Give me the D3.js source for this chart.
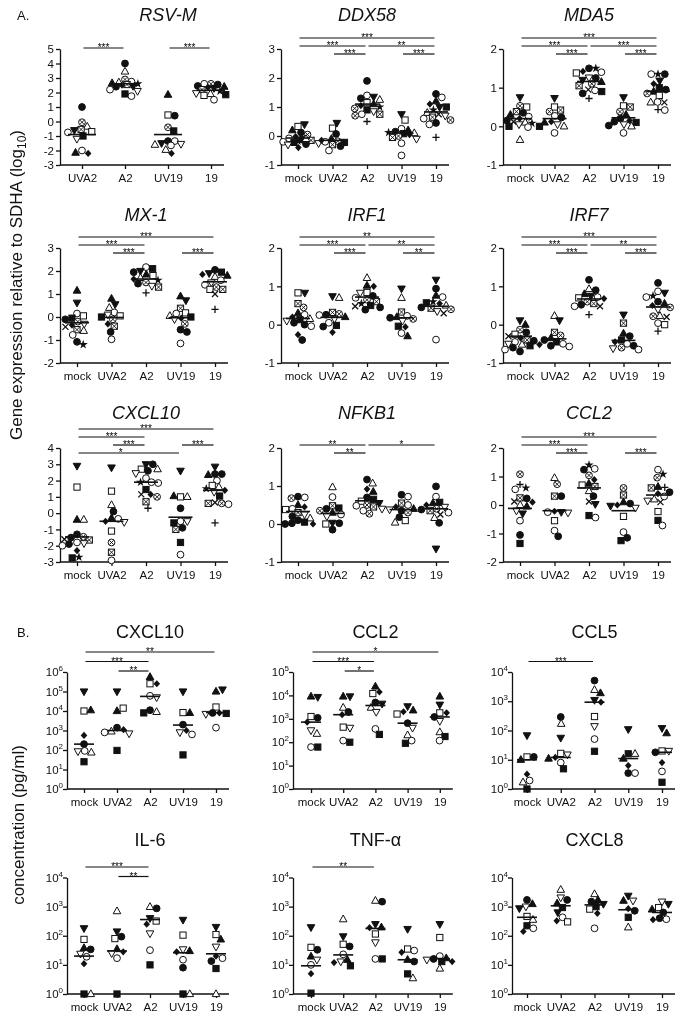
<!DOCTYPE html>
<html>
<head>
<meta charset="utf-8">
<script src="https://cdn.jsdelivr.net/npm/d3@7"></script>
<style>
  body { margin: 0; background: #fff; }
  #chart { display: block; font-family: "Liberation Sans", Arial, sans-serif; filter: grayscale(100%); }
  #chart text { font-family: "Liberation Sans", Arial, sans-serif; }
</style>
</head>
<body>
<svg id="chart" width="687" height="1018"></svg>
<script>
// ----------------------------------------------------------
// Data. Shape codes:
//  o open circle, O filled circle, s open square, S filled square,
//  t/T triangle up open/filled, v/V triangle down open/filled,
//  D filled diamond, c circle-with-x, q square-with-x, * star, + plus, x cross
// ----------------------------------------------------------
const groups5 = ['mock', 'UVA2', 'A2', 'UV19', '19'];
const groups4 = ['UVA2', 'A2', 'UV19', '19'];

const ticksRsvm = [-3, -2, -1, 0, 1, 2, 3, 4, 5];
const ticksM1to3 = [-1, 0, 1, 2, 3];
const ticksM1to2 = [-1, 0, 1, 2];
const ticksM2to3 = [-2, -1, 0, 1, 2, 3];
const ticksM3to4 = [-3, -2, -1, 0, 1, 2, 3, 4];
const ticksM2to2 = [-2, -1, 0, 1, 2];
const ticksLog6 = [1, 10, 100, 1e3, 1e4, 1e5, 1e6];
const ticksLog5 = [1, 10, 100, 1e3, 1e4, 1e5];
const ticksLog4 = [1, 10, 100, 1e3, 1e4];

// --- A. gene expression (log10 relative to SDHA) ---
const rsvmPoints = [
  [[1.0,'O'],[-0.05,'c'],[-0.35,'t'],[-0.55,'q'],[-0.6,'V'],[-0.7,'s'],[-0.75,'o'],[-1.0,'S'],[-1.2,'v'],[-2.0,'o'],[-2.2,'D'],[-2.15,'T']],
  [[4.0,'O'],[3.45,'t'],[2.9,'c'],[2.75,'o'],[2.7,'t'],[2.65,'T'],[2.6,'*'],[2.55,'q'],[2.5,'D'],[2.45,'V'],[2.4,'O'],[2.2,'o'],[2.1,'v'],[1.9,'S'],[1.75,'o']],
  [[1.85,'T'],[0.45,'s'],[0.4,'O'],[-0.4,'c'],[-0.65,'S'],[-1.35,'O'],[-1.35,'o'],[-1.5,'V'],[-1.55,'v'],[-1.6,'t'],[-1.65,'o'],[-1.95,'t'],[-2.2,'D']],
  [[2.6,'c'],[2.55,'O'],[2.6,'o'],[2.45,'O'],[2.4,'T'],[2.35,'D'],[2.3,'V'],[2.2,'q'],[2.1,'*'],[1.95,'v'],[1.9,'t'],[1.85,'S'],[1.8,'s'],[1.5,'o']]
];
const rsvmMeans = [-0.9, 2.6, -0.9, 2.15];
const rsvmSig = [[0, 1, '***', 0.75], [2, 3, '***', 0.75]];

const ddx58Points = [
  [[0.33,'s'],[0.4,'V'],[0.2,'T'],[0.12,'O'],[0.05,'c'],[-0.02,'D'],[-0.08,'o'],[-0.12,'O'],[-0.15,'q'],[-0.2,'o'],[-0.22,'S'],[-0.28,'O'],[-0.3,'v'],[-0.4,'D'],[-0.1,'t'],[-0.18,'*']],
  [[0.27,'s'],[0.45,'V'],[0.07,'O'],[-0.1,'T'],[-0.18,'c'],[-0.2,'o'],[-0.22,'S'],[-0.25,'v'],[-0.3,'q'],[-0.35,'O'],[-0.5,'o'],[-0.15,'D']],
  [[1.9,'O'],[1.4,'o'],[1.35,'V'],[1.3,'O'],[1.25,'t'],[1.15,'s'],[1.1,'T'],[1.05,'D'],[1.0,'*'],[0.95,'c'],[0.9,'S'],[0.85,'v'],[0.75,'o'],[0.75,'q'],[0.7,'c'],[0.5,'+']],
  [[0.75,'V'],[0.55,'s'],[0.25,'o'],[0.2,'T'],[0.15,'O'],[0.12,'*'],[0.1,'t'],[0.08,'S'],[0.05,'D'],[0.0,'c'],[-0.05,'q'],[-0.1,'v'],[-0.25,'o'],[-0.67,'o']],
  [[1.45,'O'],[1.33,'o'],[1.2,'T'],[1.1,'D'],[1.0,'V'],[1.0,'S'],[0.9,'*'],[0.8,'t'],[0.75,'x'],[0.7,'v'],[0.65,'q'],[0.6,'o'],[0.55,'c'],[0.45,'O'],[0.4,'o'],[-0.05,'+']]
];
const ddx58Means = [-0.07, -0.15, 1.1, 0.1, 0.83];
const ddx58Sig = [[0, 4, '***', 2], [0, 2, '***', 1], [2, 4, '**', 1], [1, 2, '***', 0], [3, 4, '***', 0]];

const mda5Points = [
  [[0.75,'V'],[0.53,'c'],[0.5,'s'],[0.38,'q'],[0.35,'O'],[0.3,'T'],[0.25,'o'],[0.2,'D'],[0.15,'O'],[0.12,'x'],[0.1,'t'],[0.08,'*'],[0.05,'v'],[0.0,'S'],[-0.02,'o'],[-0.35,'t']],
  [[0.73,'V'],[0.5,'s'],[0.42,'q'],[0.38,'c'],[0.27,'o'],[0.23,'O'],[0.12,'D'],[0.1,'T'],[0.05,'v'],[0.0,'t'],[0.0,'S'],[-0.17,'o']],
  [[1.5,'O'],[1.5,'*'],[1.42,'D'],[1.4,'o'],[1.38,'s'],[1.26,'v'],[1.25,'O'],[1.2,'V'],[1.15,'T'],[1.1,'c'],[1.05,'q'],[0.95,'x'],[0.93,'o'],[0.9,'S'],[0.85,'O'],[0.72,'+']],
  [[0.75,'V'],[0.53,'s'],[0.5,'q'],[0.38,'c'],[0.3,'T'],[0.2,'O'],[0.15,'D'],[0.12,'O'],[0.1,'S'],[0.05,'v'],[0.02,'O'],[0.0,'t'],[-0.17,'o']],
  [[1.35,'*'],[1.35,'O'],[1.35,'o'],[1.18,'V'],[1.1,'D'],[1.0,'S'],[0.95,'O'],[0.9,'T'],[0.85,'c'],[0.8,'s'],[0.63,'o'],[0.62,'x'],[0.62,'t'],[0.43,'+'],[0.42,'o']]
];
const mda5Means = [0.2, 0.2, 1.16, 0.22, 0.91];
const mda5Sig = [[0, 4, '***', 2], [0, 2, '***', 1], [2, 4, '***', 1], [1, 2, '***', 0], [3, 4, '***', 0]];

const mx1Points = [
  [[1.15,'T'],[0.62,'V'],[0.15,'o'],[0.05,'s'],[-0.05,'S'],[-0.1,'O'],[-0.2,'c'],[-0.3,'v'],[-0.35,'D'],[-0.43,'x'],[-0.55,'q'],[-0.6,'t'],[-0.78,'o'],[-1.08,'O'],[-1.2,'*']],
  [[0.8,'T'],[0.55,'V'],[0.4,'t'],[0.2,'o'],[0.1,'v'],[0.05,'s'],[0.0,'S'],[-0.1,'c'],[-0.3,'D'],[-0.4,'q'],[-0.65,'O'],[-0.97,'o']],
  [[2.17,'o'],[2.1,'S'],[2.0,'V'],[1.95,'O'],[1.85,'T'],[1.8,'s'],[1.7,'t'],[1.65,'D'],[1.6,'*'],[1.5,'c'],[1.45,'O'],[1.35,'v'],[1.3,'q'],[1.05,'+']],
  [[0.9,'T'],[0.72,'V'],[0.38,'q'],[0.18,'s'],[0.15,'o'],[0.05,'t'],[0.0,'S'],[-0.05,'D'],[-0.1,'v'],[-0.3,'c'],[-0.55,'O'],[-0.65,'O'],[-1.15,'o']],
  [[2.05,'O'],[1.95,'S'],[1.9,'V'],[1.85,'D'],[1.8,'T'],[1.75,'t'],[1.6,'o'],[1.5,'v'],[1.4,'o'],[1.3,'c'],[1.2,'s'],[1.2,'q'],[1.0,'x'],[0.33,'+']]
];
const mx1Means = [-0.25, -0.02, 1.65, -0.03, 1.53];
const mx1Sig = [[0, 4, '***', 2], [0, 2, '***', 1], [1, 2, '***', 0], [3, 4, '***', 0]];

const irf1Points = [
  [[0.83,'s'],[0.83,'V'],[0.55,'q'],[0.45,'c'],[0.3,'T'],[0.26,'o'],[0.2,'D'],[0.15,'t'],[0.13,'S'],[0.1,'v'],[0.05,'O'],[0.0,'O'],[-0.04,'o'],[-0.26,'D'],[-0.4,'O']],
  [[0.74,'V'],[0.7,'t'],[0.32,'q'],[0.28,'c'],[0.26,'O'],[0.25,'o'],[0.2,'T'],[0.15,'v'],[0.05,'o'],[-0.02,'S'],[-0.05,'O'],[-0.2,'D']],
  [[1.22,'t'],[1.02,'T'],[1.0,'D'],[0.84,'s'],[0.83,'v'],[0.75,'O'],[0.7,'o'],[0.65,'c'],[0.6,'q'],[0.55,'*'],[0.5,'S'],[0.48,'x'],[0.45,'O'],[0.39,'O']],
  [[0.94,'V'],[0.7,'t'],[0.33,'q'],[0.23,'o'],[0.2,'T'],[0.18,'O'],[0.15,'c'],[0.1,'v'],[-0.04,'S'],[-0.06,'D'],[-0.22,'o'],[-0.3,'T']],
  [[1.17,'V'],[0.94,'O'],[0.76,'T'],[0.72,'o'],[0.6,'*'],[0.57,'S'],[0.55,'D'],[0.5,'t'],[0.45,'O'],[0.43,'q'],[0.4,'c'],[0.35,'v'],[0.3,'x'],[-0.39,'o']]
];
const irf1Means = [0.16, 0.19, 0.72, 0.18, 0.48];
const irf1Sig = [[0, 4, '**', 2], [0, 2, '***', 1], [2, 4, '**', 1], [1, 2, '***', 0], [3, 4, '**', 0]];

const irf7Points = [
  [[0.11,'V'],[0.0,'T'],[-0.13,'c'],[-0.2,'O'],[-0.25,'s'],[-0.3,'x'],[-0.35,'D'],[-0.4,'q'],[-0.42,'O'],[-0.45,'o'],[-0.5,'v'],[-0.52,'t'],[-0.55,'S'],[-0.6,'O'],[-0.65,'o'],[-0.7,'O']],
  [[0.23,'t'],[0.11,'V'],[-0.2,'q'],[-0.28,'c'],[-0.35,'T'],[-0.4,'O'],[-0.45,'S'],[-0.5,'o'],[-0.52,'D'],[-0.55,'O'],[-0.57,'o']],
  [[1.17,'O'],[0.93,'t'],[0.9,'O'],[0.8,'T'],[0.75,'V'],[0.72,'o'],[0.7,'s'],[0.68,'D'],[0.6,'c'],[0.55,'q'],[0.52,'O'],[0.48,'x'],[0.48,'o'],[0.26,'+']],
  [[0.26,'V'],[0.04,'q'],[-0.23,'T'],[-0.3,'O'],[-0.4,'S'],[-0.45,'D'],[-0.5,'o'],[-0.55,'O'],[-0.6,'c'],[-0.62,'v'],[-0.65,'o']],
  [[1.09,'O'],[0.87,'o'],[0.83,'V'],[0.75,'*'],[0.72,'o'],[0.6,'O'],[0.55,'T'],[0.5,'D'],[0.45,'c'],[0.4,'v'],[0.23,'t'],[0.22,'c'],[0.2,'x'],[0.04,'o'],[0.0,'s'],[-0.17,'+']]
];
const irf7Means = [-0.3, -0.37, 0.67, -0.41, 0.46];
const irf7Sig = [[0, 4, '***', 2], [0, 2, '***', 1], [2, 4, '**', 1], [1, 2, '***', 0], [3, 4, '***', 0]];

const cxcl10gPoints = [
  [[2.9,'V'],[1.6,'s'],[-0.4,'T'],[-0.4,'t'],[-1.3,'O'],[-1.45,'c'],[-1.5,'O'],[-1.6,'x'],[-1.65,'q'],[-1.8,'o'],[-1.85,'v'],[-1.9,'O'],[-2.0,'o'],[-2.3,'D'],[-2.7,'*'],[-2.75,'S']],
  [[2.8,'V'],[1.35,'s'],[0.5,'t'],[0.1,'O'],[-0.3,'T'],[-0.35,'o'],[-0.5,'D'],[-0.55,'v'],[-1.1,'s'],[-1.8,'c'],[-2.4,'q'],[-2.9,'o']],
  [[3.0,'V'],[3.0,'O'],[2.7,'s'],[2.7,'t'],[2.6,'O'],[2.45,'v'],[2.15,'o'],[1.9,'o'],[1.9,'*'],[1.85,'o'],[1.45,'S'],[1.15,'D'],[1.15,'x'],[1.0,'c'],[0.7,'q'],[0.3,'+']],
  [[2.6,'V'],[1.0,'s'],[1.0,'t'],[1.05,'T'],[0.3,'O'],[-0.5,'o'],[-0.5,'v'],[-0.6,'S'],[-0.9,'O'],[-1.0,'q'],[-1.8,'S'],[-2.55,'o']],
  [[2.85,'V'],[2.4,'O'],[2.4,'O'],[2.35,'T'],[2.0,'o'],[1.7,'s'],[1.6,'t'],[1.5,'*'],[1.4,'D'],[1.3,'v'],[1.05,'S'],[0.65,'x'],[0.6,'c'],[0.6,'q'],[0.55,'o'],[-0.6,'+']]
];
const cxcl10gMeans = [-1.46, -0.5, 1.9, -0.25, 1.4];
const cxcl10gSig = [[0, 4, '***', 3], [0, 2, '***', 2], [1, 2, '***', 1], [3, 4, '***', 1], [0, 3, '*', 0]];

const nfkb1Points = [
  [[0.72,'O'],[0.7,'o'],[0.68,'c'],[0.5,'T'],[0.45,'D'],[0.4,'o'],[0.38,'s'],[0.3,'q'],[0.25,'v'],[0.2,'O'],[0.15,'t'],[0.1,'O'],[0.05,'S'],[0.02,'O'],[0.0,'O'],[0.0,'D']],
  [[0.97,'t'],[0.71,'o'],[0.48,'q'],[0.42,'S'],[0.4,'O'],[0.35,'c'],[0.3,'T'],[0.25,'o'],[0.2,'v'],[0.03,'V'],[0.02,'O'],[0.0,'s'],[-0.15,'O']],
  [[1.17,'O'],[1.07,'t'],[0.92,'D'],[0.85,'T'],[0.7,'O'],[0.65,'S'],[0.6,'s'],[0.55,'V'],[0.5,'c'],[0.48,'o'],[0.45,'q'],[0.4,'v'],[0.35,'o'],[0.27,'c']],
  [[0.77,'O'],[0.72,'o'],[0.55,'q'],[0.5,'o'],[0.45,'D'],[0.4,'T'],[0.38,'v'],[0.35,'O'],[0.3,'c'],[0.18,'O'],[0.09,'s'],[0.04,'t']],
  [[0.99,'O'],[0.72,'o'],[0.57,'S'],[0.55,'T'],[0.5,'D'],[0.45,'v'],[0.4,'c'],[0.38,'O'],[0.35,'q'],[0.3,'o'],[0.25,'x'],[0.16,'t'],[0.03,'O'],[-0.65,'V']]
];
const nfkb1Means = [0.33, 0.28, 0.61, 0.38, 0.4];
const nfkb1Sig = [[0, 2, '**', 1], [2, 4, '*', 1], [1, 2, '**', 0]];

const ccl2gPoints = [
  [[1.08,'c'],[0.72,'+'],[0.6,'*'],[0.55,'o'],[0.25,'q'],[0.23,'O'],[0.12,'x'],[0.1,'D'],[0.0,'t'],[-0.05,'T'],[-0.2,'v'],[-0.3,'V'],[-0.55,'o'],[-1.05,'O'],[-1.35,'S']],
  [[0.95,'t'],[0.73,'c'],[0.31,'q'],[0.31,'O'],[-0.22,'D'],[-0.25,'V'],[-0.25,'o'],[-0.27,'v'],[-0.55,'s'],[-0.9,'o'],[-1.1,'O']],
  [[1.4,'*'],[1.27,'o'],[1.24,'O'],[1.04,'c'],[0.89,'D'],[0.75,'T'],[0.7,'s'],[0.65,'q'],[0.49,'t'],[0.31,'O'],[0.12,'x'],[0.03,'V'],[-0.37,'S'],[-0.44,'o']],
  [[0.6,'c'],[0.35,'q'],[0.1,'T'],[0.05,'O'],[0.0,'D'],[-0.03,'V'],[-0.1,'v'],[-0.4,'s'],[-0.95,'o'],[-1.15,'O'],[-1.25,'S']],
  [[1.24,'o'],[1.08,'*'],[0.96,'c'],[0.64,'T'],[0.62,'+'],[0.6,'q'],[0.45,'O'],[0.4,'D'],[0.3,'o'],[0.2,'t'],[0.15,'v'],[0.1,'x'],[-0.23,'s'],[-0.54,'S'],[-0.72,'o']]
];
const ccl2gMeans = [-0.12, -0.2, 0.6, -0.2, 0.35];
const ccl2gSig = [[0, 4, '***', 2], [0, 2, '***', 1], [1, 2, '***', 0], [3, 4, '***', 0]];

// --- B. secreted protein (pg/ml), lines are medians ---
const cxcl10pPoints = [
  [[1e5,'V'],[1e4,'s'],[11000,'T'],[560,'D'],[200,'O'],[90,'o'],[85,'v'],[75,'t'],[25,'S']],
  [[1e5,'V'],[1e4,'T'],[14000,'s'],[1400,'O'],[1100,'D'],[900,'t'],[800,'o'],[700,'v'],[95,'S']],
  [[560000,'T'],[250000,'s'],[250000,'D'],[60000,'o'],[50000,'v'],[11000,'O'],[9000,'t'],[8000,'S']],
  [[1e5,'V'],[8300,'s'],[8000,'T'],[2000,'O'],[1000,'D'],[800,'v'],[630,'o'],[56,'S']],
  [[1e5,'T'],[126000,'V'],[16000,'s'],[8000,'D'],[8000,'O'],[7500,'S'],[7000,'v'],[1400,'o']]
];
const cxcl10pMeans = [200, 1000, 56000, 1900, 8300];
const cxcl10pSig = [[0, 4, '**', 2], [0, 2, '***', 1], [1, 2, '**', 0]];

const ccl2pPoints = [
  [[9000,'T'],[8500,'V'],[1250,'s'],[1100,'O'],[720,'D'],[320,'v'],[230,'t'],[62,'o'],[62,'S']],
  [[9000,'T'],[9000,'V'],[3000,'t'],[1950,'O'],[1500,'D'],[440,'s'],[410,'v'],[117,'o'],[100,'S']],
  [[24000,'T'],[14000,'D'],[12000,'s'],[5000,'O'],[4400,'V'],[3000,'t'],[1950,'v'],[370,'o'],[215,'S']],
  [[3400,'V'],[2300,'T'],[2000,'D'],[1600,'s'],[650,'O'],[410,'v'],[200,'t'],[117,'o'],[90,'S']],
  [[9000,'T'],[4000,'V'],[1800,'s'],[1800,'D'],[1200,'O'],[800,'v'],[270,'t'],[175,'S'],[117,'o']]
];
const ccl2pMeans = [720, 1500, 3700, 650, 1200];
const ccl2pSig = [[0, 4, '*', 2], [0, 2, '***', 1], [1, 2, '*', 0]];

const ccl5Points = [
  [[68,'V'],[12.5,'s'],[12.5,'O'],[10,'T'],[3.2,'D'],[1.95,'o'],[1.7,'t'],[1,'S']],
  [[290,'O'],[170,'t'],[56,'V'],[16.5,'s'],[15,'v'],[12,'D'],[11,'T'],[8,'o'],[4.9,'S']],
  [[5100,'O'],[2450,'t'],[1900,'T'],[1100,'V'],[930,'D'],[300,'s'],[140,'v'],[51,'o'],[19.5,'S']],
  [[110,'V'],[16,'S'],[16,'t'],[11,'T'],[6.3,'D'],[3.5,'O'],[3.5,'o']],
  [[120,'V'],[81,'T'],[20,'s'],[20,'v'],[18,'O'],[8,'D'],[4,'o'],[1.7,'S']]
];
const ccl5Means = [10, 12, 930, 11, 18];
const ccl5Sig = [[0, 2, '***', 1]];

const il6Points = [
  [[180,'V'],[75,'s'],[38,'T'],[34,'O'],[24,'v'],[19,'o'],[11,'D'],[1,'S'],[1,'t']],
  [[700,'t'],[140,'V'],[93,'O'],[80,'s'],[35,'T'],[28,'D'],[25,'v'],[17,'o'],[1,'S']],
  [[980,'t'],[870,'O'],[400,'V'],[320,'s'],[250,'D'],[120,'v'],[32,'o'],[10,'S']],
  [[350,'V'],[105,'s'],[34,'v'],[30,'T'],[28,'D'],[15,'o'],[8,'O'],[1,'S'],[1,'t']],
  [[200,'V'],[110,'s'],[75,'T'],[42,'v'],[20,'D'],[17,'o'],[13.5,'O'],[7.5,'S'],[1,'t']]
];
const il6Means = [20, 30, 360, 26, 24];
const il6Sig = [[0, 2, '***', 1], [1, 2, '**', 0]];

const tnfPoints = [
  [[195,'V'],[40,'s'],[33,'O'],[19.5,'T'],[15,'v'],[10,'o'],[5,'D'],[1.07,'S']],
  [[370,'t'],[95,'V'],[51,'s'],[43,'O'],[23,'o'],[15,'T'],[13,'v'],[12,'D'],[9.3,'S']],
  [[1600,'t'],[1480,'O'],[250,'V'],[195,'T'],[190,'D'],[115,'s'],[59,'v'],[16,'o'],[16,'S']],
  [[170,'V'],[35,'s'],[31,'o'],[27,'D'],[15,'T'],[13,'O'],[4.9,'S'],[3.5,'t']],
  [[250,'V'],[87,'s'],[20,'o'],[17,'T'],[16,'O'],[15,'v'],[13,'D'],[13,'S'],[7.5,'t']]
];
const tnfMeans = [9.3, 22, 178, 15, 16.5];
const tnfSig = [[0, 2, '**', 1]];

const cxcl8Points = [
  [[1700,'O'],[1230,'T'],[1000,'v'],[870,'V'],[460,'s'],[355,'t'],[220,'S'],[180,'o'],[140,'D']],
  [[3800,'t'],[2050,'v'],[1700,'O'],[1300,'T'],[930,'S'],[630,'V'],[430,'o'],[325,'D'],[300,'s']],
  [[2700,'t'],[1700,'T'],[1480,'O'],[1230,'V'],[1000,'S'],[820,'s'],[590,'D'],[180,'o']],
  [[2350,'V'],[1600,'v'],[1600,'T'],[850,'D'],[720,'O'],[430,'S'],[195,'t']],
  [[1480,'v'],[1230,'V'],[930,'s'],[800,'T'],[630,'O'],[400,'O'],[370,'o'],[355,'D']]
];
const cxcl8Means = [430, 1070, 1150, 780, 630];
const cxcl8Sig = [];

// ----------------------------------------------------------
// Layout
// ----------------------------------------------------------
const colA = [60, 281, 503];
const rowA = [
  { top: 49, bot: 165, title: 21 },
  { top: 248, bot: 363, title: 221 },
  { top: 448, bot: 562, title: 419 }
];
const colB = [
  { x0: 67, first: 17, step: 33 },
  { x0: 293, first: 18, step: 32.2 },
  { x0: 512, first: 15, step: 33.75 }
];
const rowB = [
  { top: 672, bot: 789, title: 638 },
  { top: 877.5, bot: 994, title: 846 }
];

function panelA(title, pts, means, sig, ticks, col, row, groups) {
  const four = groups.length === 4;
  return {
    title, italic: true, log: false, groups,
    pts, means, sig, ticks, domain: [ticks[0], ticks[ticks.length - 1]],
    x0: colA[col], first: four ? 22 : 17, step: four ? 43 : 34.5,
    top: rowA[row].top, bot: rowA[row].bot, titleY: rowA[row].title,
    half: four ? 14 : 12
  };
}
function panelB(title, pts, means, sig, ticks, col, row) {
  return {
    title, italic: false, log: true, groups: groups5,
    pts, means, sig, ticks, domain: [ticks[0], ticks[ticks.length - 1]],
    x0: colB[col].x0, first: colB[col].first, step: colB[col].step,
    top: rowB[row].top, bot: rowB[row].bot, titleY: rowB[row].title,
    half: 10
  };
}

const panels = [
  panelA('RSV-M', rsvmPoints, rsvmMeans, rsvmSig, ticksRsvm, 0, 0, groups4),
  panelA('DDX58', ddx58Points, ddx58Means, ddx58Sig, ticksM1to3, 1, 0, groups5),
  panelA('MDA5', mda5Points, mda5Means, mda5Sig, ticksM1to2, 2, 0, groups5),
  panelA('MX-1', mx1Points, mx1Means, mx1Sig, ticksM2to3, 0, 1, groups5),
  panelA('IRF1', irf1Points, irf1Means, irf1Sig, ticksM1to2, 1, 1, groups5),
  panelA('IRF7', irf7Points, irf7Means, irf7Sig, ticksM1to2, 2, 1, groups5),
  panelA('CXCL10', cxcl10gPoints, cxcl10gMeans, cxcl10gSig, ticksM3to4, 0, 2, groups5),
  panelA('NFKB1', nfkb1Points, nfkb1Means, nfkb1Sig, ticksM1to2, 1, 2, groups5),
  panelA('CCL2', ccl2gPoints, ccl2gMeans, ccl2gSig, ticksM2to2, 2, 2, groups5),
  panelB('CXCL10', cxcl10pPoints, cxcl10pMeans, cxcl10pSig, ticksLog6, 0, 0),
  panelB('CCL2', ccl2pPoints, ccl2pMeans, ccl2pSig, ticksLog5, 1, 0),
  panelB('CCL5', ccl5Points, ccl5Means, ccl5Sig, ticksLog4, 2, 0),
  panelB('IL-6', il6Points, il6Means, il6Sig, ticksLog4, 0, 1),
  panelB('TNF-\u03b1', tnfPoints, tnfMeans, tnfSig, ticksLog4, 1, 1),
  panelB('CXCL8', cxcl8Points, cxcl8Means, cxcl8Sig, ticksLog4, 2, 1)
];

// ----------------------------------------------------------
// Drawing helpers
// ----------------------------------------------------------
const svg = d3.select('#chart');
const INK = '#111';
const FONT = '"Liberation Sans", Arial, sans-serif';

function drawMarker(g, shape) {
  const open = 'osctvq'.includes(shape);
  const fill = open ? '#fff' : INK;
  const sw = 1;
  if (shape === 'o' || shape === 'O' || shape === 'c') {
    g.append('circle').attr('r', 3.4).attr('fill', fill).attr('stroke', INK).attr('stroke-width', sw);
    if (shape === 'c') {
      g.append('path').attr('d', 'M-2.2,-2.2L2.2,2.2M-2.2,2.2L2.2,-2.2').attr('stroke', INK).attr('stroke-width', 0.9);
    }
  } else if (shape === 's' || shape === 'S' || shape === 'q') {
    g.append('rect').attr('x', -3.1).attr('y', -3.1).attr('width', 6.2).attr('height', 6.2)
      .attr('fill', fill).attr('stroke', INK).attr('stroke-width', sw);
    if (shape === 'q') {
      g.append('path').attr('d', 'M-3.1,-3.1L3.1,3.1M-3.1,3.1L3.1,-3.1').attr('stroke', INK).attr('stroke-width', 0.9);
    }
  } else if (shape === 't' || shape === 'T') {
    g.append('path').attr('d', 'M0,-4.2L3.8,2.6L-3.8,2.6Z').attr('fill', fill).attr('stroke', INK).attr('stroke-width', sw);
  } else if (shape === 'v' || shape === 'V') {
    g.append('path').attr('d', 'M0,4.2L3.8,-2.6L-3.8,-2.6Z').attr('fill', fill).attr('stroke', INK).attr('stroke-width', sw);
  } else if (shape === 'D') {
    g.append('path').attr('d', 'M0,-3.6L3.3,0L0,3.6L-3.3,0Z').attr('fill', INK);
  } else if (shape === '*') {
    g.append('path').attr('d', d3.symbol(d3.symbolStar, 26)()).attr('fill', INK);
  } else if (shape === '+') {
    g.append('path').attr('d', 'M-3.6,0H3.6M0,-3.6V3.6').attr('stroke', INK).attr('stroke-width', 1.3);
  } else if (shape === 'x') {
    g.append('path').attr('d', 'M-3,-3L3,3M-3,3L3,-3').attr('stroke', INK).attr('stroke-width', 1.3);
  }
}

// simple beeswarm: horizontal offsets so markers do not overlap
function swarm(ys, diam, maxOff) {
  const xs = [];
  ys.forEach((py, i) => {
    const near = [];
    for (let j = 0; j < i; j++) if (Math.abs(ys[j] - py) < diam) near.push(j);
    const cands = [0];
    near.forEach((j) => {
      const dx = Math.sqrt(diam * diam - (ys[j] - py) * (ys[j] - py));
      cands.push(xs[j] + dx, xs[j] - dx);
    });
    const ok = (c) => near.every((j) => Math.hypot(xs[j] - c, ys[j] - py) >= diam - 0.01);
    let best = null;
    cands.filter((c) => Math.abs(c) <= maxOff && ok(c)).forEach((c) => {
      if (best === null || Math.abs(c) < Math.abs(best) - 0.01) best = c;
    });
    if (best === null) {
      let bestD = -1;
      for (let c = -maxOff; c <= maxOff; c += 1) {
        const d = Math.min(...near.map((j) => Math.hypot(xs[j] - c, ys[j] - py)));
        if (d > bestD) { bestD = d; best = c; }
      }
    }
    xs.push(best);
  });
  return xs;
}

function overlaps(a, b) {
  return a.x < b.x + b.width && b.x < a.x + a.width && a.y < b.y + b.height && b.y < a.y + a.height;
}

function drawPanel(p) {
  const g = svg.append('g');
  const n = p.groups.length;
  const x = d3.scalePoint().domain(p.groups)
    .range([p.x0 + p.first, p.x0 + p.first + p.step * (n - 1)]);
  const y = (p.log ? d3.scaleLog() : d3.scaleLinear()).domain(p.domain).range([p.bot, p.top]);

  // title
  g.append('text')
    .attr('x', x(p.groups[Math.floor(n / 2)]))
    .attr('y', p.titleY)
    .attr('text-anchor', 'middle')
    .attr('font-size', 18)
    .attr('font-style', p.italic ? 'italic' : 'normal')
    .attr('fill', INK)
    .text(p.title);

  // y axis
  const yAxis = d3.axisLeft(y).tickValues(p.ticks).tickSize(4).tickSizeOuter(0).tickPadding(2)
    .tickFormat((d) => (p.log ? '' : String(d).replace('\u2212', '-')));
  const ya = g.append('g').attr('transform', 'translate(' + p.x0 + ',0)').call(yAxis)
    .attr('font-family', FONT);
  ya.selectAll('path, line').attr('stroke', INK).attr('stroke-width', 1.3);
  ya.selectAll('text').attr('font-size', 11.5).attr('fill', INK);
  if (p.log) {
    ya.selectAll('.tick text').each(function (d) {
      const t = d3.select(this).attr('x', -4);
      t.append('tspan').text('10');
      t.append('tspan').attr('font-size', 8).attr('dy', -5).text(Math.round(Math.log10(d)));
    });
  }

  // x axis
  const xa = g.append('g').attr('transform', 'translate(0,' + p.bot + ')')
    .call(d3.axisBottom(x).tickSize(4).tickSizeOuter(0).tickPadding(5))
    .attr('font-family', FONT);
  xa.select('.domain').remove();
  xa.append('line').attr('x1', p.x0).attr('x2', x(p.groups[n - 1]) + 13)
    .attr('stroke', INK).attr('stroke-width', 1.3);
  xa.selectAll('line').attr('stroke', INK).attr('stroke-width', 1.3);
  xa.selectAll('text').attr('font-size', 11.5).attr('fill', INK);

  // points
  p.pts.forEach((grp, gi) => {
    const cx = x(p.groups[gi]);
    const ys = grp.map((d) => y(d[0]));
    const offs = swarm(ys, 6.8, 15);
    grp.forEach((d, i) => {
      const m = g.append('g').attr('transform', 'translate(' + (cx + offs[i]) + ',' + ys[i] + ')');
      drawMarker(m, d[1]);
    });
  });

  // mean / median lines
  p.means.forEach((v, gi) => {
    const cx = x(p.groups[gi]);
    g.append('line')
      .attr('x1', cx - p.half).attr('x2', cx + p.half)
      .attr('y1', y(v)).attr('y2', y(v))
      .attr('stroke', INK).attr('stroke-width', 1.6);
  });

  // significance brackets (labels nudged sideways if they would collide)
  const placed = [];
  p.sig.slice().sort((a, b) => b[3] - a[3]).forEach(([a, b, label, level]) => {
    const yy = p.log ? p.top - 1 - 9.5 * level : p.top + 5 - 8 * level;
    const xA = x(p.groups[a]) + 1.5;
    const xB = x(p.groups[b]) - 1.5;
    g.append('line').attr('x1', xA).attr('x2', xB).attr('y1', yy).attr('y2', yy)
      .attr('stroke', INK).attr('stroke-width', 1.2);
    const t = g.append('text').attr('x', (xA + xB) / 2).attr('y', yy + 3.2)
      .attr('text-anchor', 'middle').attr('font-size', 10).attr('fill', '#000').text(label);
    let box = t.node().getBBox();
    let shift = 0;
    while (placed.some((q) => overlaps(box, q)) && shift < 40) {
      shift += 2;
      t.attr('x', (xA + xB) / 2 - shift);
      box = t.node().getBBox();
    }
    placed.push(box);
  });
}

panels.forEach(drawPanel);

// section letters
svg.append('text').attr('x', 17).attr('y', 20).attr('font-size', 13).attr('fill', INK).text('A.');
svg.append('text').attr('x', 17).attr('y', 637).attr('font-size', 13).attr('fill', INK).text('B.');

// shared y-axis labels
const gl = svg.append('text')
  .attr('transform', 'translate(22,285) rotate(-90)')
  .attr('text-anchor', 'middle').attr('font-size', 17).attr('fill', INK);
gl.append('tspan').text('Gene expression relative to SDHA (log');
gl.append('tspan').attr('font-size', 12).attr('dy', 4).text('10');
gl.append('tspan').attr('dy', -4).text(')');

svg.append('text')
  .attr('transform', 'translate(24,825) rotate(-90)')
  .attr('text-anchor', 'middle').attr('font-size', 17).attr('fill', INK)
  .text('concentration (pg/ml)');
</script>
</body>
</html>
